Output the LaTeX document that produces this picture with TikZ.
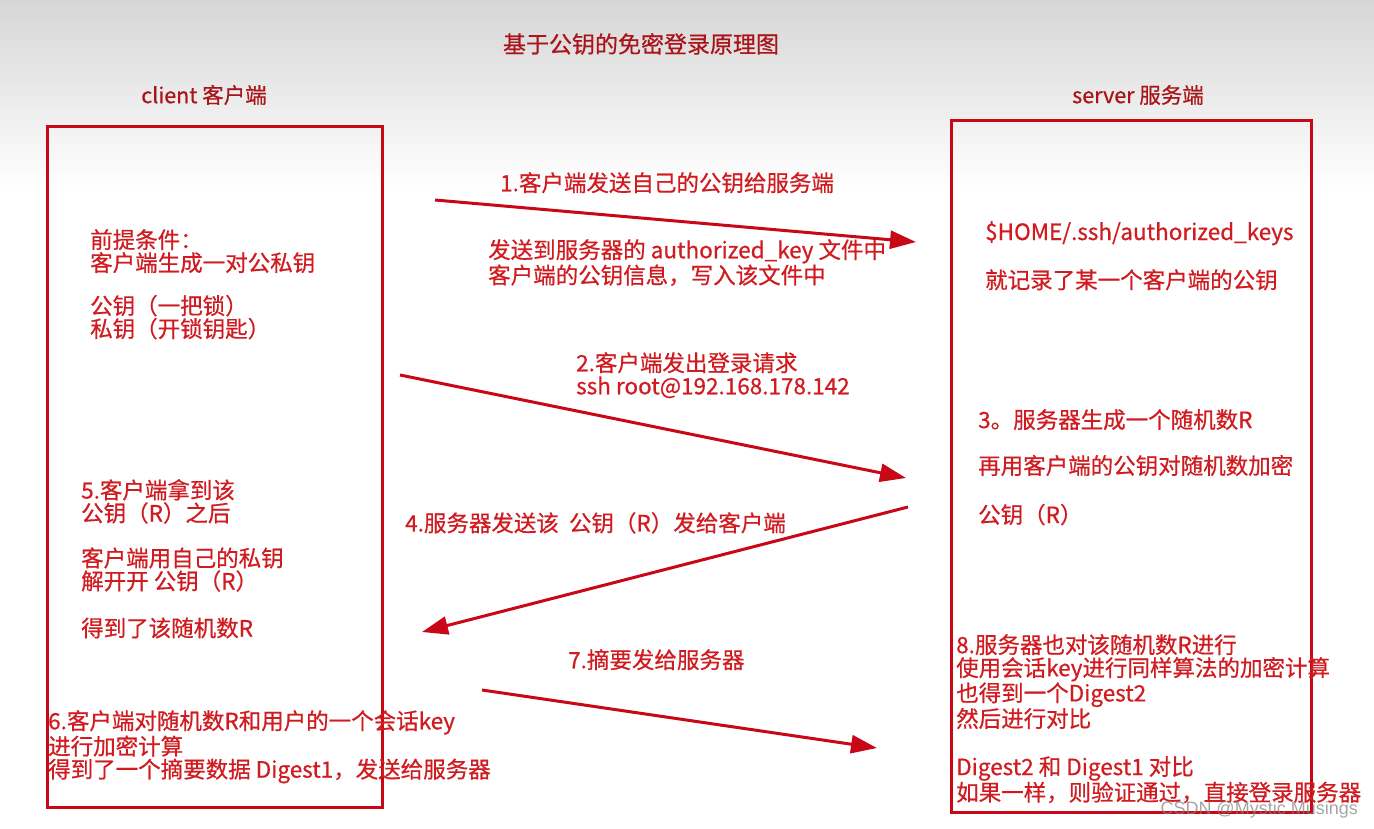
\documentclass[tikz,border=0pt]{standalone}
\usepackage{fontspec}
\setmainfont{Noto Sans CJK SC}[FakeBold=0.6]
\newfontfamily\wmfont{Liberation Sans}
\usetikzlibrary{arrows.meta}
\definecolor{txtred}{RGB}{208,28,32}
\definecolor{titred}{RGB}{170,20,25}
\definecolor{boxred}{RGB}{200,8,22}
\definecolor{topgray}{RGB}{214,214,214}
\tikzset{
  lbl/.style={text=txtred, inner sep=0pt, align=left, anchor=north west, font=\fontsize{22.5}{23}\selectfont},
  hdr/.style={text=titred, inner sep=0pt, font=\fontsize{21.5}{23}\selectfont},
  panel/.style={draw=boxred, line width=3pt},
  msg/.style={draw=boxred, line width=3pt, -{Triangle[length=26pt,width=18pt]}},
}
\begin{document}
\begin{tikzpicture}[x=1pt,y=-1pt]
\useasboundingbox (0,0) rectangle (1374,829);
\fill[white] (0,0) rectangle (1374,829);
\fill[top color=topgray, bottom color=white] (0,0) rectangle (1374,190);
% title and headers
\node[hdr, font=\fontsize{23}{24}\selectfont] (title) at (641,44) {基于公钥的免密登录原理图};
\node[hdr] (clienthdr) at (204,95) {client 客户端};
\node[hdr] (serverhdr) at (1138,95) {server 服务端};
% panels
\draw[panel] (47,127) rectangle (382,807);
\draw[panel] (951,121) rectangle (1311,812);
% client texts
\node[lbl] (pre) at (90,229) {前提条件：\\客户端生成一对公私钥\\[20pt]公钥（一把锁）\\私钥（开锁钥匙）};
\node[lbl] (step5) at (81,479) {5.客户端拿到该\\公钥（R）之后\\[22pt]客户端用自己的私钥\\解开开 公钥（R）\\[24pt]得到了该随机数R};
\node[lbl] (step6) at (48,710) {6.客户端对随机数R和用户的一个会话key\\进行加密计算\\得到了一个摘要数据 Digest1，发送给服务器};
% server texts
\node[lbl] (auth) at (985,221) {\$HOME/.ssh/authorized\_keys\\[23pt]就记录了某一个客户端的公钥};
\node[lbl] (step3) at (978,409) {3。服务器生成一个随机数R\\[23pt]再用客户端的公钥对随机数加密\\[26pt]公钥（R）};
\node[lbl] (step8) at (956,634) {8.服务器也对该随机数R进行\\使用会话key进行同样算法的加密计算\\也得到一个Digest2\\然后进行对比\\[25pt]Digest2 和 Digest1 对比\\如果一样，则验证通过，直接登录服务器};
% arrow labels
\node[lbl] (l1) at (500,172) {1.客户端发送自己的公钥给服务端};
\node[lbl] (l1b) at (488,239) {发送到服务器的 authorized\_key 文件中\\客户端的公钥信息，写入该文件中};
\node[lbl] (l2) at (576,352) {2.客户端发出登录请求\\ssh root@192.168.178.142};
\node[lbl] (l4) at (405,512) {4.服务器发送该 \ 公钥（R）发给客户端};
\node[lbl] (l7) at (568,649) {7.摘要发给服务器};
% arrows
\coordinate (a1s) at (435,200);
\coordinate (a1e) at (916,242);
\coordinate (a2s) at (400,375);
\coordinate (a2e) at (906,478);
\coordinate (a4s) at (908,507);
\coordinate (a4e) at (422,632);
\coordinate (a7s) at (482,690);
\coordinate (a7e) at (877,748);
\draw[msg] (a1s) -- (a1e);
\draw[msg] (a2s) -- (a2e);
\draw[msg] (a4s) -- (a4e);
\draw[msg] (a7s) -- (a7e);
% watermark
\node[text=gray, opacity=0.7, inner sep=0pt, anchor=east, font=\wmfont\fontsize{18}{20}\selectfont] (wm) at (1358,810) {CSDN @Mystic Musings};
\end{tikzpicture}
\end{document}
